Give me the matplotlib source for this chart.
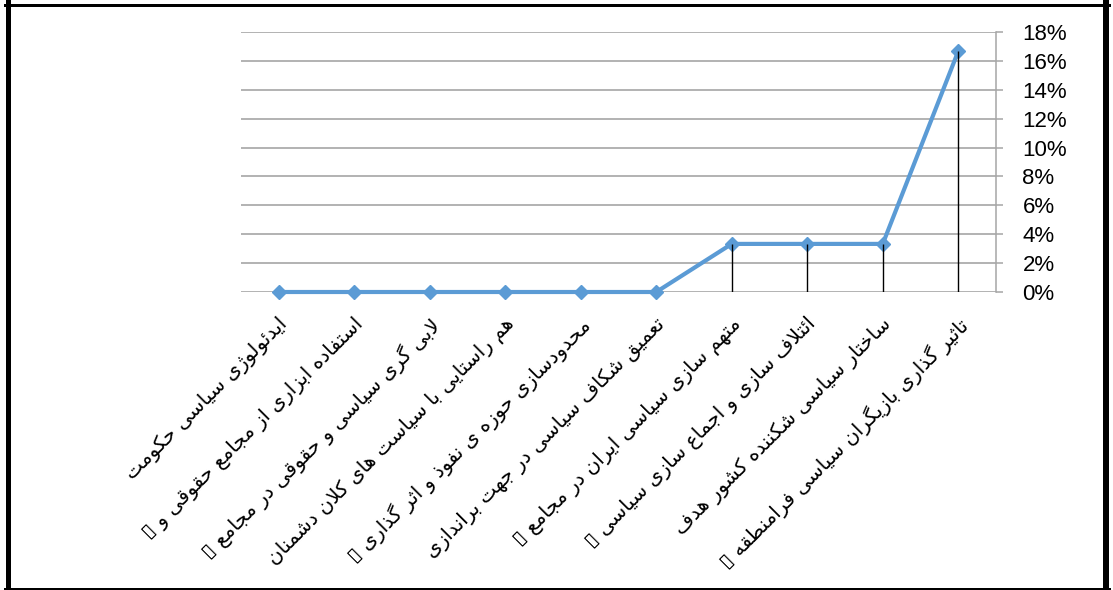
import matplotlib
matplotlib.use("Agg")
import matplotlib.pyplot as plt
from matplotlib.lines import Line2D
from matplotlib.transforms import ScaledTranslation

# ---------------- data ----------------
categories = [
    "ایدئولوژی سیاسی حکومت",
    "استفاده ابزاری از مجامع حقوقی و ▯",
    "لابی گری سیاسی و حقوقی در مجامع ▯",
    "هم راستایی با سیاست های کلان دشمنان",
    "محدودسازی حوزه ی نفوذ و اثر گذاری ▯",
    "تعمیق شکاف سیاسی در جهت براندازی",
    "متهم سازی سیاسی ایران در مجامع ▯",
    "ائتلاف سازی و اجماع سازی سیاسی ▯",
    "ساختار سیاسی شکننده کشور هدف",
    "تاثیر گذاری بازیگران سیاسی فرامنطقه ▯",
]
values = [0.0, 0.0, 0.0, 0.0, 0.0, 0.0, 3.33, 3.33, 3.33, 16.67]
yticks = [0, 2, 4, 6, 8, 10, 12, 14, 16, 18]
ytick_labels = [f"{v}%" for v in yticks]

# ---------------- simple Arabic/Persian shaping for display ----------------
# forms: (isolated, final, initial, medial); None for right-joining letters' initial/medial
FORMS = {
    "ا": (0xFE8D, 0xFE8E, None, None),
    "آ": (0xFE81, 0xFE82, None, None),
    "ئ": (0xFE89, 0xFE8A, 0xFE8B, 0xFE8C),
    "ب": (0xFE8F, 0xFE90, 0xFE91, 0xFE92),
    "پ": (0xFB56, 0xFB57, 0xFB58, 0xFB59),
    "ت": (0xFE95, 0xFE96, 0xFE97, 0xFE98),
    "ث": (0xFE99, 0xFE9A, 0xFE9B, 0xFE9C),
    "ج": (0xFE9D, 0xFE9E, 0xFE9F, 0xFEA0),
    "چ": (0xFB7A, 0xFB7B, 0xFB7C, 0xFB7D),
    "ح": (0xFEA1, 0xFEA2, 0xFEA3, 0xFEA4),
    "خ": (0xFEA5, 0xFEA6, 0xFEA7, 0xFEA8),
    "د": (0xFEA9, 0xFEAA, None, None),
    "ذ": (0xFEAB, 0xFEAC, None, None),
    "ر": (0xFEAD, 0xFEAE, None, None),
    "ز": (0xFEAF, 0xFEB0, None, None),
    "ژ": (0xFB8A, 0xFB8B, None, None),
    "س": (0xFEB1, 0xFEB2, 0xFEB3, 0xFEB4),
    "ش": (0xFEB5, 0xFEB6, 0xFEB7, 0xFEB8),
    "ص": (0xFEB9, 0xFEBA, 0xFEBB, 0xFEBC),
    "ض": (0xFEBD, 0xFEBE, 0xFEBF, 0xFEC0),
    "ط": (0xFEC1, 0xFEC2, 0xFEC3, 0xFEC4),
    "ظ": (0xFEC5, 0xFEC6, 0xFEC7, 0xFEC8),
    "ع": (0xFEC9, 0xFECA, 0xFECB, 0xFECC),
    "غ": (0xFECD, 0xFECE, 0xFECF, 0xFED0),
    "ف": (0xFED1, 0xFED2, 0xFED3, 0xFED4),
    "ق": (0xFED5, 0xFED6, 0xFED7, 0xFED8),
    "ک": (0xFB8E, 0xFB8F, 0xFB90, 0xFB91),
    "گ": (0xFB92, 0xFB93, 0xFB94, 0xFB95),
    "ل": (0xFEDD, 0xFEDE, 0xFEDF, 0xFEE0),
    "م": (0xFEE1, 0xFEE2, 0xFEE3, 0xFEE4),
    "ن": (0xFEE5, 0xFEE6, 0xFEE7, 0xFEE8),
    "و": (0xFEED, 0xFEEE, None, None),
    "ه": (0xFEE9, 0xFEEA, 0xFEEB, 0xFEEC),
    "ی": (0xFBFC, 0xFBFD, 0xFBFE, 0xFBFF),
}
LAM_ALEF = (0xFEFB, 0xFEFC)


def dual(c):
    return c in FORMS and FORMS[c][2] is not None


def shape(text):
    out = []
    chars = list(text)
    n = len(chars)
    i = 0
    while i < n:
        c = chars[i]
        if c not in FORMS:
            out.append(c)
            i += 1
            continue
        prev = chars[i - 1] if i > 0 else ""
        join_prev = dual(prev)
        if c == "ل" and i + 1 < n and chars[i + 1] == "ا":
            out.append(chr(LAM_ALEF[1] if join_prev else LAM_ALEF[0]))
            i += 2
            continue
        nxt = chars[i + 1] if i + 1 < n else ""
        join_next = dual(c) and nxt in FORMS
        iso, fin, ini, med = FORMS[c]
        if join_prev and join_next:
            f = med
        elif join_prev:
            f = fin
        elif join_next:
            f = ini
        else:
            f = iso
        out.append(chr(f))
        i += 1
    return "".join(out)[::-1]


# ---------------- figure ----------------
W, H, DPI = 1113, 590, 100
fig = plt.figure(figsize=(W / DPI, H / DPI), dpi=DPI)
fig.patch.set_facecolor("white")

left, right, top, bottom = 241, 996, 32, 292
ax = fig.add_axes([left / W, 1 - bottom / H, (right - left) / W, (bottom - top) / H])

x = list(range(len(categories)))
grid_color = "#A6A6A6"

ax.set_xlim(-0.5, len(categories) - 0.5)
ax.set_ylim(0, 18)
ax.set_yticks(yticks)
ax.set_yticklabels(ytick_labels, family="Liberation Sans", fontsize=16)
ax.yaxis.tick_right()
ax.tick_params(axis="y", which="both", length=5, width=1.1, color=grid_color,
               pad=14, direction="out")
for t in ax.get_yticklabels():
    t.set_horizontalalignment("left")
ax.set_xticks([])
ax.yaxis.grid(True, color=grid_color, linewidth=1.2)
ax.set_axisbelow(True)
for s in ["left", "top", "bottom"]:
    ax.spines[s].set_visible(False)
ax.spines["right"].set_color(grid_color)
ax.spines["right"].set_linewidth(1.1)

# series line
ax.plot(x, values, color="#5B9BD5", linewidth=3.0, marker="D", markersize=6.8,
        markerfacecolor="#5B9BD5", markeredgecolor="#5B9BD5", zorder=3,
        clip_on=False)
# drop lines (drawn over the series, as in the reference)
ax.vlines(x, 0, values, colors="black", linewidth=1.0, zorder=4)

# rotated category labels
base = ax.get_xaxis_transform()
off = ScaledTranslation(-1 / DPI, -22 / DPI, fig.dpi_scale_trans)
for xi, lab in zip(x, categories):
    ax.text(xi, 0, shape(lab), transform=base + off, rotation=45,
            rotation_mode="anchor", ha="right", va="top",
            fontsize=14.5, family="DejaVu Sans", color="black")

# outer border
bc = "black"
fig.add_artist(Line2D([7.5 / W, 7.5 / W], [0, 1], transform=fig.transFigure,
                      color=bc, linewidth=5 * 72 / DPI))
fig.add_artist(Line2D([1106 / W, 1106 / W], [0, 1], transform=fig.transFigure,
                      color=bc, linewidth=6 * 72 / DPI))
fig.add_artist(Line2D([5 / W, 1109 / W], [1 - 5 / H, 1 - 5 / H], transform=fig.transFigure,
                      color=bc, linewidth=3 * 72 / DPI))
fig.add_artist(Line2D([5 / W, 1109 / W], [1 - 588.5 / H, 1 - 588.5 / H], transform=fig.transFigure,
                      color=bc, linewidth=3 * 72 / DPI))

fig.savefig("out.png", dpi=DPI)
